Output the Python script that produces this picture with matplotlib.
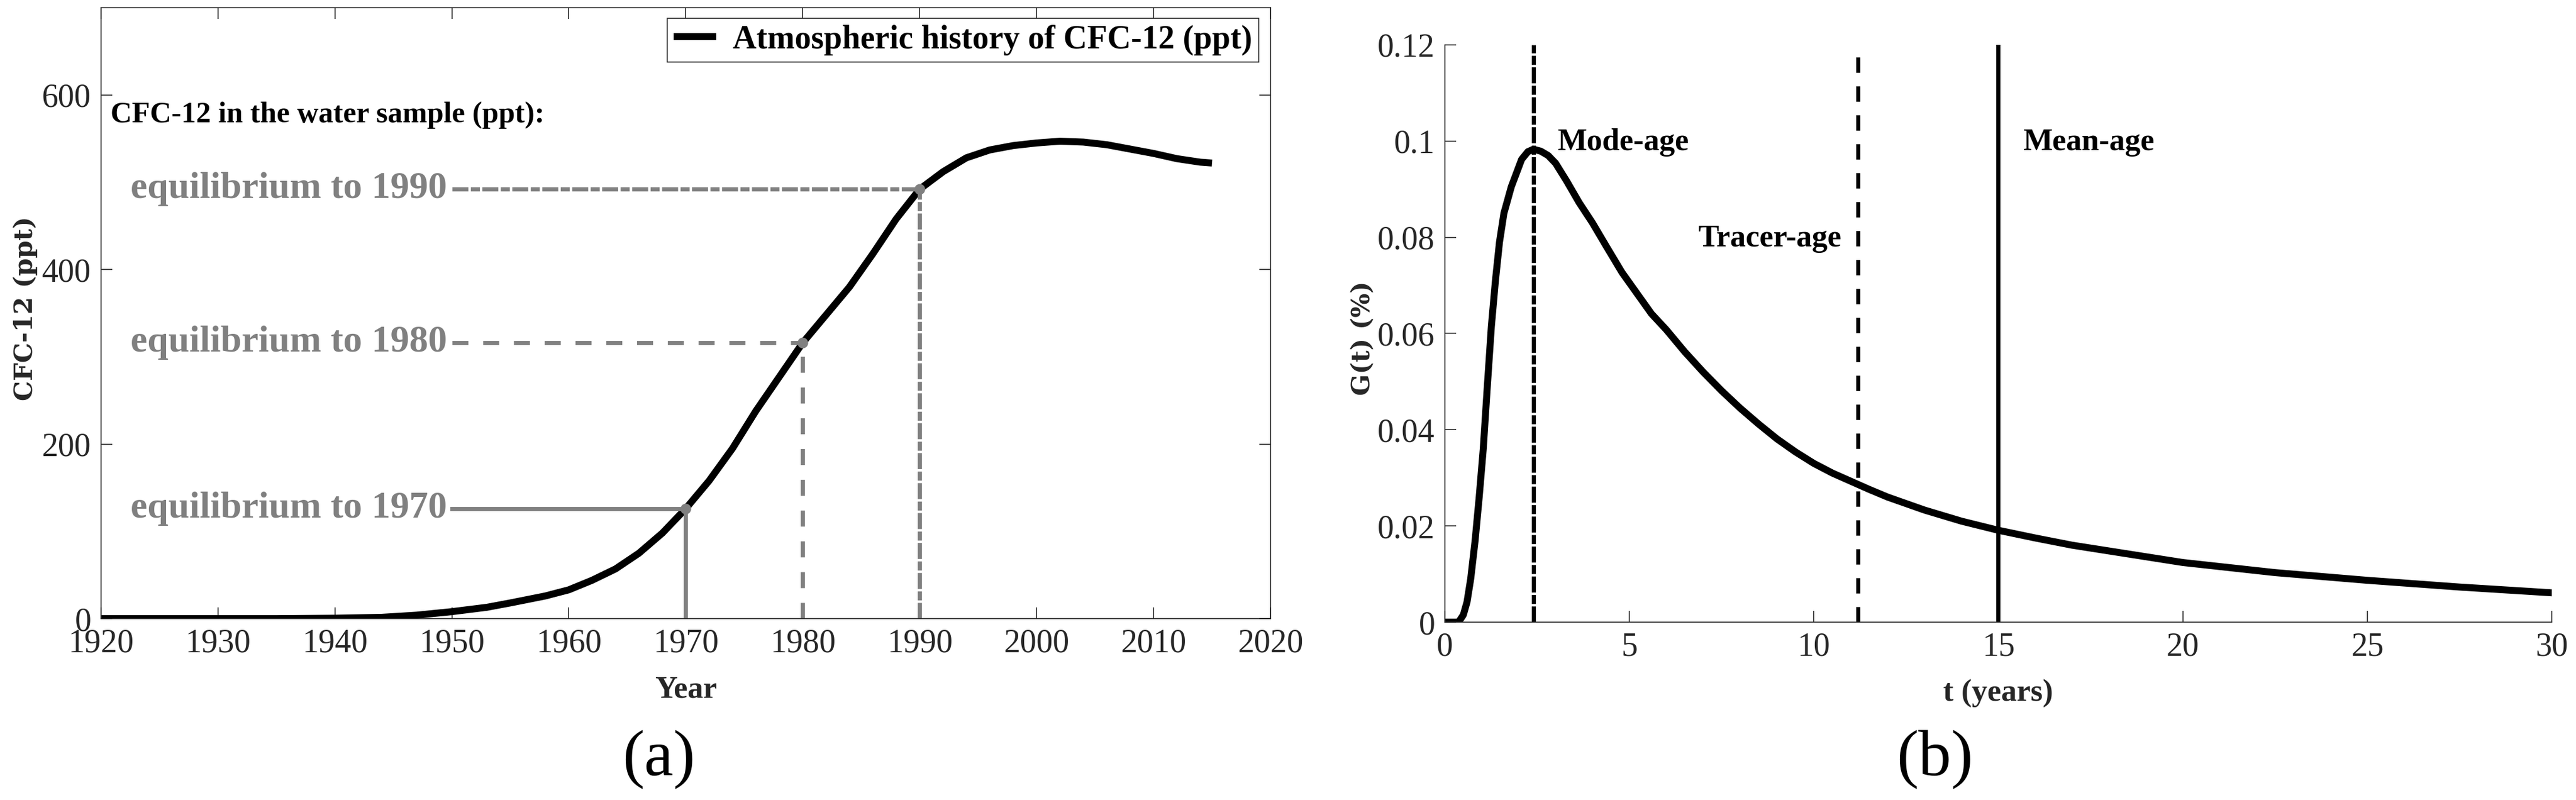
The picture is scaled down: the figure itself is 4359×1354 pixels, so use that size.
import matplotlib
matplotlib.use('Agg')
import matplotlib.pyplot as plt

# (a) historia atmosferica do CFC-12
anos = [1920, 1925, 1930, 1935, 1940, 1944, 1947, 1950, 1953, 1955, 1958, 1960,
        1962, 1964, 1966, 1968, 1970, 1972, 1974, 1976, 1978, 1980, 1982, 1984,
        1986, 1988, 1990, 1992, 1994, 1996, 1998, 2000, 2002, 2004, 2006, 2008,
        2010, 2012, 2014, 2015]
cfc12 = [0, 0, 0, 0, 0.5, 1.5, 4, 8, 13, 18, 26, 33,
         44, 57, 75, 98, 126, 158, 195, 238, 277, 316, 348, 380,
         418, 458, 492, 512, 528, 537, 542, 545, 547, 546, 543, 538,
         533, 527, 523, 522]

eq_anos = [1970, 1980, 1990]
eq_valores = [126, 316, 492]
eq_textos = ['equilibrium to 1970', 'equilibrium to 1980', 'equilibrium to 1990']

# (b) distribuicao de idades G(t)
t = [0, 0.37, 0.5, 0.6, 0.7, 0.82, 0.93, 1.04, 1.15, 1.26, 1.37, 1.48, 1.6, 1.8,
     2.08, 2.25, 2.4, 2.6, 2.8, 3.0, 3.3, 3.64, 4.0, 4.37, 4.8, 5.2, 5.6, 6.0, 6.5,
     7.0, 7.5, 8.0, 8.5, 9.0, 9.5, 10, 10.5, 11, 11.5, 12, 13, 14, 15, 16, 17,
     18, 20, 22.5, 25, 27.5, 30]
g = [0, 0, 0.0015, 0.0042, 0.009, 0.017, 0.026, 0.036, 0.049, 0.0615, 0.071,
     0.0790, 0.0850, 0.0905, 0.0962, 0.0978, 0.0983, 0.0979, 0.0970, 0.0954,
     0.0917, 0.0872, 0.0830, 0.0782, 0.0727, 0.0684, 0.0641, 0.0608, 0.0562,
     0.0520, 0.0481, 0.0445, 0.0412, 0.0381, 0.0354, 0.0330, 0.0310, 0.0293,
     0.0276, 0.0260, 0.0233, 0.0210, 0.0191, 0.0175, 0.0160, 0.0148, 0.0124,
     0.0103, 0.0087, 0.0073, 0.0061]

idades = [2.4, 11.2, 15]

plt.rcParams['font.family'] = ['Liberation Serif', 'DejaVu Serif']
cinza = '#808080'
eixo = '#262626'

# padroes de tracejado (em unidades da espessura da linha)
traco_ponto = (0, (3.9, 0.6, 2.2, 0.6))
estilos_eq = ['-', (0, (3.9, 3.6)), traco_ponto]
estilos_idade = [traco_ponto, (0, (3.75, 3.3)), '-']

fig = plt.figure(figsize=(43.59, 13.54), dpi=100)

# painel (a)
ax1 = fig.add_axes([0.0392, 0.2267, 0.454, 0.7637])
ax1.plot(anos, cfc12, 'k-', linewidth=8.5, solid_capstyle='butt',
         label='Atmospheric history of CFC-12 (ppt)')
for ano, val, ls, txt in zip(eq_anos, eq_valores, estilos_eq, eq_textos):
    ax1.plot([1950, ano], [val, val], color=cinza, linestyle=ls, linewidth=5)
    ax1.plot([ano, ano], [0, val], color=cinza, linestyle=ls, linewidth=5)
    ax1.plot(ano, val, 'o', color=cinza, markersize=12)
    ax1.text(1949.6, val, txt, color=cinza, fontsize=46, fontweight='bold',
             ha='right', va='center')
ax1.text(1920.8, 577, 'CFC-12 in the water sample (ppt):', fontsize=36,
         fontweight='bold', ha='left', va='center')
ax1.set_xlim(1920, 2020)
ax1.set_ylim(0, 700)
ax1.set_xticks(range(1920, 2021, 10))
ax1.set_yticks([0, 200, 400, 600])
ax1.tick_params(direction='in', length=14, width=1.2, top=True, right=True,
                labelsize=40, colors=eixo, pad=12)
for s in ax1.spines.values():
    s.set_color(eixo)
    s.set_linewidth(1.2)
ax1.set_xlabel('Year', fontsize=38, fontweight='bold', color=eixo, labelpad=20)
ax1.set_ylabel('CFC-12 (ppt)', fontsize=31, fontweight='bold', color=eixo,
               family='DejaVu Serif')
ax1.yaxis.set_label_coords(-0.054, 0.508)
leg = ax1.legend(loc='upper right', bbox_to_anchor=(0.99, 0.983),
                 prop={'weight': 'bold', 'size': 40}, handlelength=1.3,
                 fancybox=False, framealpha=1, borderaxespad=0,
                 borderpad=0.2, handletextpad=0.5)
leg.get_frame().set_edgecolor(eixo)
leg.get_frame().set_linewidth(1.2)
fig.text(0.2558, 0.05, '(a)', fontsize=80, ha='center', va='center')

# painel (b)
ax2 = fig.add_axes([0.5609, 0.2223, 0.4297, 0.7216])
ax2.plot(t, g, 'k-', linewidth=8.5)
for x, ls in zip(idades, estilos_idade):
    ax2.axvline(x, color='k', linestyle=ls, linewidth=5)
ax2.text(3.05, 0.0997, 'Mode-age', fontsize=38, fontweight='bold', va='center')
ax2.text(10.75, 0.0797, 'Tracer-age', fontsize=38, fontweight='bold',
         va='center', ha='right')
ax2.text(15.66, 0.0997, 'Mean-age', fontsize=38, fontweight='bold', va='center')
ax2.set_xlim(0, 30)
ax2.set_ylim(0, 0.12)
ax2.set_xticks([0, 5, 10, 15, 20, 25, 30])
ax2.set_yticks([0, 0.02, 0.04, 0.06, 0.08, 0.1, 0.12])
ax2.set_yticklabels(['0', '0.02', '0.04', '0.06', '0.08', '0.1', '0.12'])
ax2.spines['top'].set_visible(False)
ax2.spines['right'].set_visible(False)
for s in ['left', 'bottom']:
    ax2.spines[s].set_color(eixo)
    ax2.spines[s].set_linewidth(1.2)
ax2.tick_params(direction='in', length=14, width=1.2, labelsize=40,
                colors=eixo, pad=12)
ax2.set_xlabel('t (years)', fontsize=38, fontweight='bold', color=eixo,
               labelpad=20)
ax2.set_ylabel('G(t) (%)', fontsize=31, fontweight='bold', color=eixo,
               family='DejaVu Serif')
ax2.yaxis.set_label_coords(-0.063, 0.492)
fig.text(0.751, 0.05, '(b)', fontsize=80, ha='center', va='center')

fig.savefig('out.png', dpi=100)
